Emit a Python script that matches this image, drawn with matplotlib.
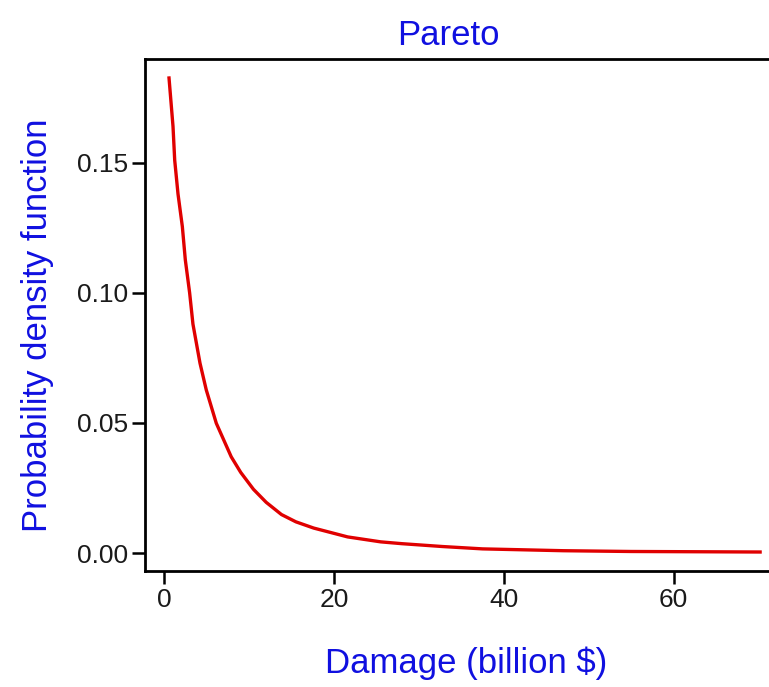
import matplotlib
matplotlib.use("Agg")
import matplotlib.pyplot as plt

# Werte (Pareto-Dichte)
damage = [0.55, 1.02, 1.22, 1.61, 2.12, 2.47, 2.98, 3.37, 4.2, 4.94, 6.12,
          7.88, 9.0, 10.5, 12.0, 13.8, 15.5, 17.6, 21.6, 25.5, 28.0, 32.8,
          37.5, 47.0, 55.0, 63.0, 70.2]
density = [0.1826, 0.164, 0.151, 0.138, 0.1255, 0.1127, 0.100, 0.088, 0.073,
           0.0627, 0.0499, 0.037, 0.031, 0.0245, 0.0195, 0.0148, 0.0120,
           0.0096, 0.0062, 0.0043, 0.0036, 0.0025, 0.0016, 0.0009, 0.0006,
           0.0005, 0.0004]
x_ticks = [0, 20, 40, 60]
y_ticks = [0.00, 0.05, 0.10, 0.15]
y_tick_labels = ["0.00", "0.05", "0.10", "0.15"]

plt.rcParams["font.family"] = ["Liberation Sans", "DejaVu Sans"]

W, H = 769, 687
fig = plt.figure(figsize=(W / 100, H / 100), dpi=100)
# Achsenrahmen in Pixeln (rechter Rand liegt ausserhalb des Bildes)
left, right, top, bottom = 145, 782, 59, 571
ax = fig.add_axes([left / W, 1 - bottom / H, (right - left) / W, (bottom - top) / H])

ax.plot(damage, density, color="#e00000", lw=2.4, solid_joinstyle="round")

ax.set_xlim(-2.28, 72.78)
ax.set_ylim(-0.0069, 0.1899)
ax.set_xticks(x_ticks)
ax.set_yticks(y_ticks)
ax.set_yticklabels(y_tick_labels)
ax.tick_params(direction="out", length=9.5, width=1.8, labelsize=19,
               colors="black", labelcolor="#1a1a1a", pad=2.5)

for s in ax.spines.values():
    s.set_linewidth(2.0)
    s.set_color("black")

blue = "#1010e0"
ax.set_title("Pareto", fontsize=25, color=blue, x=0.476, pad=10)
ax.set_xlabel("Damage (billion $)", fontsize=25, color=blue)
ax.set_ylabel("Probability density function", fontsize=25, color=blue)
ax.xaxis.set_label_coords((466 - left) / (right - left), -(663 - bottom) / (bottom - top))
ax.yaxis.set_label_coords(-(left - 38) / (right - left), (bottom - 325) / (bottom - top))
ax.xaxis.label.set_va("center")
ax.yaxis.label.set_va("center")

fig.savefig("out.png", dpi=100)
plt.close(fig)
